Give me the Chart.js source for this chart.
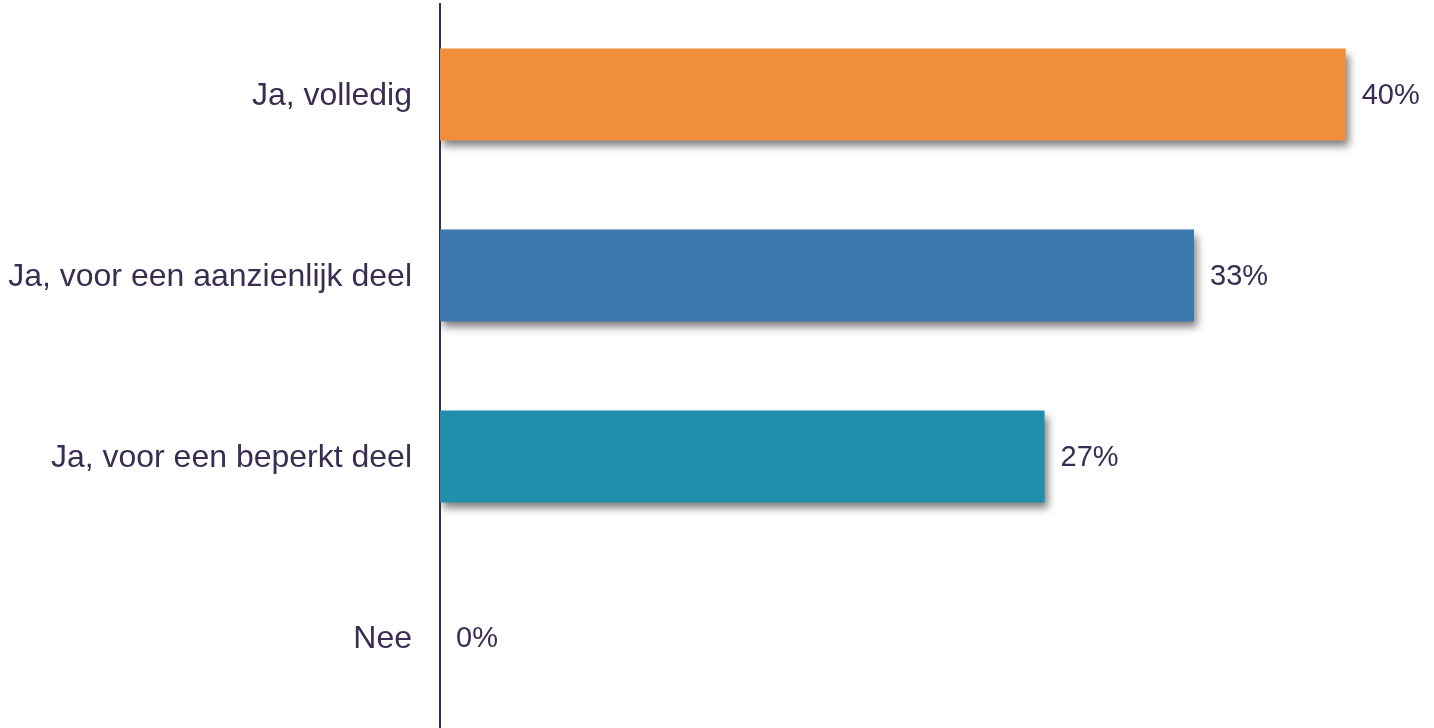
<!DOCTYPE html>
<html>
<head>
<meta charset="utf-8">
<script src="https://cdn.jsdelivr.net/npm/chart.js@4/dist/chart.umd.min.js"></script>
<style>
  html, body { margin: 0; padding: 0; background: #fff; }
  #wrap { width: 1434px; height: 728px; position: relative; }
</style>
</head>
<body>
<div id="wrap"><canvas id="chart"></canvas></div>
<script>
// -------------------------
// Data
// -------------------------
const categories = ["Ja, volledig", "Ja, voor een aanzienlijk deel", "Ja, voor een beperkt deel", "Nee"];
const shares = [40.0, 33.3, 26.7, 0];
const valueLabels = ["40%", "33%", "27%", "0%"];
const barColors = ["#F08E3B", "#3C77AD", "#1F8FAD", "#1F8FAD"];

const textColor = "#3B2D52";

// soft drop shadow under the bars
const barShadow = {
  id: "barShadow",
  beforeDatasetDraw(chart) {
    const ctx = chart.ctx;
    ctx.save();
    ctx.shadowColor = "rgba(0,0,0,0.5)";
    ctx.shadowBlur = 8;
    ctx.shadowOffsetX = 3;
    ctx.shadowOffsetY = 6;
  },
  afterDatasetDraw(chart) { chart.ctx.restore(); }
};

// percentage labels right of each bar
const valueText = {
  id: "valueText",
  afterDatasetsDraw(chart) {
    const ctx = chart.ctx;
    const meta = chart.getDatasetMeta(0);
    ctx.save();
    ctx.font = "29px 'Liberation Sans', Arial, sans-serif";
    ctx.fillStyle = textColor;
    ctx.textAlign = "left";
    ctx.textBaseline = "middle";
    meta.data.forEach((bar, i) => {
      ctx.fillText(valueLabels[i], bar.x + 16, bar.y + 1);
    });
    ctx.restore();
  }
};

new Chart(document.getElementById("chart"), {
  type: "bar",
  data: {
    labels: categories,
    datasets: [{
      data: shares,
      backgroundColor: barColors,
      borderWidth: 0,
      barPercentage: 0.8,
      categoryPercentage: 0.635
    }]
  },
  options: {
    indexAxis: "y",
    responsive: true,
    maintainAspectRatio: false,
    animation: false,
    layout: { padding: { top: 4, bottom: 0, left: 0, right: 43 } },
    plugins: { legend: { display: false }, tooltip: { enabled: false } },
    scales: {
      x: {
        display: false,
        min: 0,
        max: 42
      },
      y: {
        afterFit(scale) {
          scale.width = 440;
          // no extra room above/below for the labels
          scale.paddingTop = 0;
          scale.paddingBottom = 0;
        },
        grid: { display: false, drawTicks: false },
        border: { display: true, color: textColor, width: 2 },
        ticks: {
          color: textColor,
          padding: 28,
          labelOffset: 2,
          font: { family: "'Liberation Sans', Arial, sans-serif", size: 32 }
        }
      }
    }
  },
  plugins: [barShadow, valueText]
});
</script>
</body>
</html>
